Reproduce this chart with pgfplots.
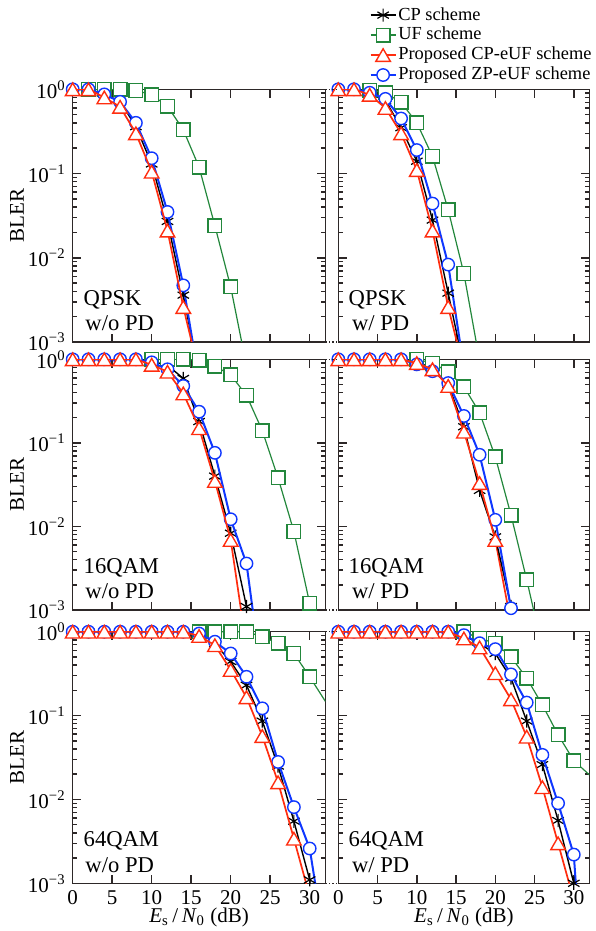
\documentclass[border=0pt]{standalone}
\usepackage{fontspec}
\setmainfont{Liberation Serif}
\usepackage{pgfplots}
\pgfplotsset{compat=1.18}

\definecolor{ufgreen}{RGB}{35,135,60}
\definecolor{eured}{RGB}{255,45,15}
\definecolor{eublue}{RGB}{15,55,255}
\definecolor{axgray}{RGB}{45,40,40}

\newcommand{\tenp}[1]{10\textsuperscript{#1}}
\newcommand{\ptext}[4]{%
  \node[anchor=base west, inner sep=0pt, font=\fontsize{11.3}{13}\selectfont, xshift=#2, yshift=18.3pt] at (rel axis cs:0,0) {#1};
  \node[anchor=base west, inner sep=0pt, font=\fontsize{11.3}{13}\selectfont, xshift=#4, yshift=5.6pt] at (rel axis cs:0,0) {#3};
}

\pgfplotsset{
  every axis/.append style={
    scale only axis,
    xmin=0, xmax=32, ymin=1e-3, ymax=1,
    xtick={0,5,10,15,20,25,30},
    ytick={0.001,0.01,0.1,1},
    minor ytick={0.002,0.003,0.004,0.005,0.006,0.007,0.008,0.009,
                 0.02,0.03,0.04,0.05,0.06,0.07,0.08,0.09,
                 0.2,0.3,0.4,0.5,0.6,0.7,0.8,0.9},
    xtick pos=both, ytick pos=both,
    axis line style={axgray, line width=0.75pt},
    tick style={axgray, line width=0.75pt},
    major tick length=4.2pt, minor tick length=2.4pt,
    tick align=inside,
    clip mode=individual,
    xticklabel style={font=\fontsize{10.5}{12}\selectfont},
    yticklabel style={font=\fontsize{10.5}{12}\selectfont},
  },
  blerylab/.style={
    yticklabels={\tenp{−3},\tenp{−2},\tenp{−1},\tenp{0}},
    ylabel={BLER},
    ylabel style={at={(axis description cs:-0.22,0.5)}, anchor=center, font=\fontsize{10.5}{12}\selectfont},
  },
  blernoy/.style={yticklabels={}},
  blernox/.style={xticklabels={}},
  blerxlab/.style={
    xticklabels={0,5,10,15,20,25,30},
    xlabel={\textit{E}\textsubscript{s}\,/\,\textit{N}\textsubscript{0} (dB)},
    xlabel style={at={(axis description cs:0.5,0)}, anchor=base, yshift=-19.7pt, font=\fontsize{10.5}{12}\selectfont},
  },
}
\tikzset{
  scp/.style={black, line width=0.7pt, mark=asterisk, mark size=3.3pt, mark options={line width=0.6pt}},
  suf/.style={ufgreen, line width=0.6pt, mark=square*, mark size=3.4pt, mark options={fill=white, line width=0.7pt}},
  scpe/.style={eured, line width=0.85pt, mark=triangle*, mark size=4.2pt, mark options={fill=white, line width=0.7pt, yshift=-1.05pt}},
  szpe/.style={eublue, line width=1pt, mark=*, mark size=3.1pt, mark options={fill=white, line width=0.7pt}},
}

\begin{document}
\begin{tikzpicture}
\path[use as bounding box] (0,0) rectangle (297.5pt,-465.5pt);

% QPSK w/o PD
\begin{semilogyaxis}[blerylab, blernox, name=A, at={(36.35pt,-44.65pt)}, anchor=north west, width=126.4pt, height=126.35pt]
\addplot[scp, mark=none, forget plot] coordinates {(14,0.0036) (16,0.0004)};
\addplot[suf, mark=none, forget plot] coordinates {(20,0.0045) (22,0.00052)};
\addplot[szpe, mark=none, forget plot] coordinates {(14,0.0047) (16,0.00035)};
\addplot[scpe, mark=none, forget plot] coordinates {(14,0.0026) (16,0.00043)};
\addplot[scp] coordinates {(0,1) (2,1) (4,0.88) (6,0.72) (8,0.36) (10,0.13) (12,0.027) (14,0.0036)};
\addplot[suf] coordinates {(2,1) (4,1) (6,1) (8,0.97) (10,0.86) (12,0.63) (14,0.33) (16,0.119) (18,0.024) (20,0.0045)};
\addplot[szpe] coordinates {(0,1) (2,1) (4,0.87) (6,0.71) (8,0.40) (10,0.152) (12,0.035) (14,0.0047)};
\addplot[scpe] coordinates {(0,1) (2,1) (4,0.80) (6,0.62) (8,0.30) (10,0.105) (12,0.021) (14,0.0026)};
\ptext{QPSK}{5.3pt}{w/o PD}{6.2pt}
\end{semilogyaxis}

% QPSK w/ PD
\begin{semilogyaxis}[blernoy, blernox, name=B, at={(169.15pt,-44.65pt)}, anchor=north west, width=125.6pt, height=126.35pt,
  legend style={at={(1,1)}, anchor=south east, xshift=2pt, yshift=2.2pt, draw=none, fill=none,
    inner sep=0pt, font=\fontsize{9.2}{10}\selectfont, row sep=0.5pt, nodes={inner sep=0.8pt}},
  legend cell align=left,
  legend image code/.code={\draw[mark repeat=2,mark phase=2] plot coordinates {(0pt,0pt) (6.3pt,0pt) (12.6pt,0pt)};}]
\addlegendimage{scp}\addlegendentry{CP scheme}
\addlegendimage{suf}\addlegendentry{UF scheme}
\addlegendimage{scpe}\addlegendentry{Proposed CP-eUF scheme}
\addlegendimage{szpe}\addlegendentry{Proposed ZP-eUF scheme}
\addplot[scp, mark=none, forget plot] coordinates {(14,0.0038) (16,0.0005)};
\addplot[suf, mark=none, forget plot] coordinates {(16,0.0065) (18,0.0006)};
\addplot[szpe, mark=none, forget plot] coordinates {(14,0.0083) (16,0.00049)};
\addplot[scpe, mark=none, forget plot] coordinates {(14,0.0026) (16,0.00046)};
\addplot[scp, forget plot] coordinates {(0,1) (2,1) (4,0.92) (6,0.74) (8,0.35) (10,0.14) (12,0.028) (14,0.0038)};
\addplot[suf, forget plot] coordinates {(4,0.98) (6,0.91) (8,0.70) (10,0.40) (12,0.16) (14,0.037) (16,0.0065)};
\addplot[szpe, forget plot] coordinates {(0,1) (2,1) (4,0.91) (6,0.77) (8,0.45) (10,0.19) (12,0.044) (14,0.0083)};
\addplot[scpe, forget plot] coordinates {(0,1) (2,1) (4,0.86) (6,0.60) (8,0.30) (10,0.11) (12,0.021) (14,0.0026)};
\ptext{QPSK}{5pt}{w/ PD}{6.7pt}
\end{semilogyaxis}

% 16QAM w/o PD
\begin{semilogyaxis}[blerylab, blernox, name=C, at={(36.35pt,-179.65pt)}, anchor=north west, width=126.4pt, height=125.35pt]
\addplot[scp, mark=none, forget plot] coordinates {(22,0.0011) (23,0.0001)};
\addplot[szpe, mark=none, forget plot] coordinates {(22,0.0036) (24,0.00014)};
\addplot[scpe, mark=none, forget plot] coordinates {(20,0.0069) (22,0.00036)};
\addplot[scp] coordinates {(0,1) (2,1) (4,1) (6,1) (8,1) (10,0.95) (12,0.85) (14,0.59) (16,0.18) (18,0.04) (20,0.0083) (22,0.0011)};
\addplot[suf] coordinates {(10,1) (12,1) (14,1) (16,0.98) (18,0.83) (20,0.65) (22,0.37) (24,0.14) (26,0.038) (28,0.0087) (30,0.0012)};
\addplot[szpe] coordinates {(0,1) (2,1) (4,1) (6,1) (8,1) (10,0.92) (12,0.76) (14,0.48) (16,0.236) (18,0.076) (20,0.0122) (22,0.0036)};
\addplot[scpe] coordinates {(0,1) (2,1) (4,1) (6,1) (8,1) (10,0.86) (12,0.71) (14,0.39) (16,0.15) (18,0.035) (20,0.0069)};
\ptext{16QAM}{5.3pt}{w/o PD}{6.2pt}
\end{semilogyaxis}

% 16QAM w/ PD
\begin{semilogyaxis}[blernoy, blernox, name=D, at={(169.15pt,-179.65pt)}, anchor=north west, width=125.6pt, height=125.35pt]
\addplot[scp, mark=none, forget plot] coordinates {(22,0.0011) (23,0.0001)};
\addplot[suf, mark=none, forget plot] coordinates {(24,0.0023) (26,0.00035)};
\addplot[scpe, mark=none, forget plot] coordinates {(20,0.0069) (22,0.0007)};
\addplot[scp] coordinates {(0,1) (2,1) (4,1) (6,1) (8,1) (10,0.93) (12,0.78) (14,0.5) (16,0.156) (18,0.027) (20,0.0075) (22,0.0011)};
\addplot[suf] coordinates {(10,1) (12,0.9) (14,0.71) (16,0.47) (18,0.23) (20,0.068) (22,0.0137) (24,0.0023)};
\addplot[szpe] coordinates {(0,1) (2,1) (4,1) (6,1) (8,1) (10,0.87) (12,0.72) (14,0.52) (16,0.21) (18,0.072) (20,0.012) (22,0.00105)};
\addplot[scpe] coordinates {(0,1) (2,1) (4,1) (6,1) (8,1) (10,0.9) (12,0.76) (14,0.48) (16,0.136) (18,0.033) (20,0.0069)};
\ptext{16QAM}{5pt}{w/ PD}{6.7pt}
\end{semilogyaxis}

% 64QAM w/o PD
\begin{semilogyaxis}[blerylab, blerxlab, name=E, at={(36.35pt,-315.85pt)}, anchor=north west, width=126.4pt, height=125.8pt]
\addplot[scp, mark=none, forget plot] coordinates {(30,0.0011) (31,0.0001)};
\addplot[suf, mark=none, forget plot] coordinates {(30,0.29) (32,0.147)};
\addplot[szpe, mark=none, forget plot] coordinates {(30,0.0026) (31,0.00066)};
\addplot[scpe, mark=none, forget plot] coordinates {(28,0.0034) (30,0.0007)};
\addplot[scp] coordinates {(0,1) (2,1) (4,1) (6,1) (8,1) (10,1) (12,1) (14,1) (16,1) (18,0.72) (20,0.44) (22,0.23) (24,0.086) (26,0.025) (28,0.0055) (30,0.0011)};
\addplot[suf] coordinates {(16,1) (18,1) (20,1) (22,1) (24,0.87) (26,0.73) (28,0.55) (30,0.29)};
\addplot[szpe] coordinates {(0,1) (2,1) (4,1) (6,1) (8,1) (10,1) (12,1) (14,1) (16,0.95) (18,0.76) (20,0.55) (22,0.29) (24,0.122) (26,0.028) (28,0.0081) (30,0.0026)};
\addplot[scpe] coordinates {(0,1) (2,1) (4,1) (6,1) (8,1) (10,1) (12,1) (14,1) (16,0.89) (18,0.69) (20,0.35) (22,0.165) (24,0.057) (26,0.016) (28,0.0034)};
\ptext{64QAM}{5.3pt}{w/o PD}{6.2pt}
\end{semilogyaxis}

% 64QAM w/ PD
\begin{semilogyaxis}[blernoy, blerxlab, name=F, at={(169.15pt,-315.85pt)}, anchor=north west, width=125.6pt, height=125.8pt]
\addplot[suf, mark=none, forget plot] coordinates {(30,0.029) (32,0.0196)};
\addplot[szpe, mark=none, forget plot] coordinates {(30,0.0022) (31,0.0001)};
\addplot[scpe, mark=none, forget plot] coordinates {(28,0.003) (30,0.00063)};
\addplot[scp] coordinates {(0,1) (2,1) (4,1) (6,1) (8,1) (10,1) (12,1) (14,1) (16,0.9) (18,0.72) (20,0.55) (22,0.28) (24,0.086) (26,0.026) (28,0.0056) (30,0.001)};
\addplot[suf] coordinates {(16,1) (18,0.83) (20,0.73) (22,0.50) (24,0.28) (26,0.134) (28,0.059) (30,0.029)};
\addplot[szpe] coordinates {(0,1) (2,1) (4,1) (6,1) (8,1) (10,1) (12,1) (14,1) (16,0.91) (18,0.73) (20,0.62) (22,0.31) (24,0.143) (26,0.034) (28,0.009) (30,0.0022)};
\addplot[scpe] coordinates {(0,1) (2,1) (4,1) (6,1) (8,1) (10,1) (12,1) (14,1) (16,0.83) (18,0.65) (20,0.32) (22,0.156) (24,0.056) (26,0.014) (28,0.003)};
\ptext{64QAM}{5pt}{w/ PD}{6.7pt}
\end{semilogyaxis}

\foreach \l/\r in {A/B, C/D, E/F} {
  \draw[axgray, densely dotted, line width=0.75pt] (\l.north east) -- (\r.north west);
  \draw[axgray, densely dotted, line width=0.75pt] (\l.south east) -- (\r.south west);
}
\end{tikzpicture}
\end{document}
